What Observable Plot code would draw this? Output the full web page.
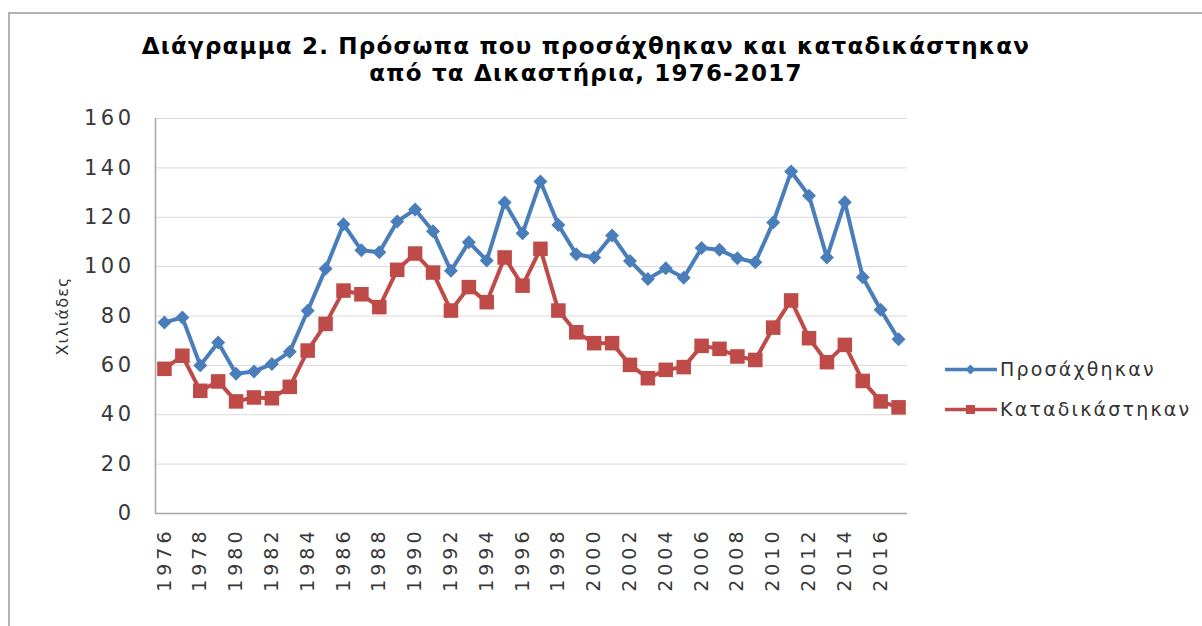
<!DOCTYPE html>
<html><head><meta charset="utf-8">
<script src="https://cdn.jsdelivr.net/npm/d3@7"></script>
<script src="https://cdn.jsdelivr.net/npm/@observablehq/plot@0.6"></script>
<style>
body{margin:0;background:#fff;}
#wrap{position:relative;width:1202px;height:626px;overflow:hidden;font-family:"DejaVu Sans",Verdana,sans-serif;background:#fff;}
#border{position:absolute;left:8px;top:12px;width:1400px;height:800px;border-left:2px solid #b3b3b3;border-top:2px solid #b3b3b3;}
#title{position:absolute;left:0;width:1172px;top:33px;text-align:center;font-weight:bold;font-size:23px;letter-spacing:1.2px;line-height:27px;color:#000;}
#chart{position:absolute;left:0;top:0;}
#legend{position:absolute;left:945px;top:349px;font-size:19px;letter-spacing:2.2px;color:#333;}
.row{display:flex;align-items:center;height:40px;}
.row svg{margin-right:3px;}
</style></head>
<body><div id="wrap">
<div id="border"></div>
<div id="chart"></div>
<div id="title">Διάγραμμα 2. Πρόσωπα που προσάχθηκαν και καταδικάστηκαν<br>από τα Δικαστήρια, 1976-2017</div>
<div id="legend"></div>
</div>
<script>
const years = d3.range(1976, 2018);
const prosaxthikan = [77.4, 79.4, 60, 69.3, 56.6, 57.5, 60.6, 65.5, 82.1, 99.1, 117.2, 106.6, 105.8, 118.3, 123.1,
  114.3, 98.3, 109.9, 102.5, 126, 113.5, 134.5, 116.9, 105, 103.7, 112.6, 102.3, 95, 99.3, 95.5,
  107.5, 106.8, 103.4, 101.8, 117.9, 138.5, 128.7, 103.7, 126.1, 95.7, 82.5, 70.6];
const katadikastikan = [58.6, 63.9, 49.7, 53.5, 45.4, 47, 46.7, 51.3, 66, 76.8, 90.3, 88.8, 83.6, 98.7, 105.3,
  97.6, 82.2, 91.7, 85.6, 103.7, 92.3, 107.2, 82.2, 73.4, 69, 69, 60.2, 54.8, 58.2, 59.3,
  67.9, 66.7, 63.6, 62.2, 75.3, 86.3, 71, 61.3, 68.3, 53.7, 45.4, 43];
const seriesNames = ["Προσάχθηκαν", "Καταδικάστηκαν"];
const colors = ["#4a7ebb", "#be4b48"];
const yTicks = [0, 20, 40, 60, 80, 100, 120, 140, 160];
const xTicks = d3.range(1976, 2017, 2);
const yLabel = "Χιλιάδες";

const chart = Plot.plot({
  width: 1202, height: 626,
  marginLeft: 155, marginRight: 295, marginTop: 118, marginBottom: 113,
  style: {fontFamily: "'DejaVu Sans', Verdana, sans-serif", fontSize: "19px", color: "#333", background: "transparent"},
  x: {type: "linear", domain: [1975.5, 2017.5]},
  y: {domain: [0, 160]},
  marks: [
    Plot.gridY(yTicks.slice(1), {stroke: "#d9d9d9", strokeOpacity: 1}),
    Plot.ruleY([0], {stroke: "#a6a6a6", strokeWidth: 1.5}),
    Plot.ruleX([1975.5], {stroke: "#a6a6a6", strokeWidth: 1.5}),
    Plot.axisY(yTicks, {tickSize: 0, tickPadding: 21, label: null, fill: "#383838"}),
    Plot.axisX(xTicks, {tickSize: 0, tickRotate: -90, tickPadding: 14, tickFormat: d => String(d), label: null, fill: "#383838"}),
    Plot.text([yLabel], {text: d => d, frameAnchor: "left", textAnchor: "middle", dx: -93, rotate: -90, fontSize: 16, fill: "#333"}),
    Plot.line(prosaxthikan, {x: (d, i) => years[i], y: d => d, stroke: colors[0], strokeWidth: 4}),
    Plot.line(katadikastikan, {x: (d, i) => years[i], y: d => d, stroke: colors[1], strokeWidth: 4}),
    Plot.dot(prosaxthikan, {x: (d, i) => years[i], y: d => d, symbol: "diamond2", r: 6.3, fill: colors[0], stroke: "none"}),
    Plot.dot(katadikastikan, {x: (d, i) => years[i], y: d => d, symbol: "square", r: 8.2, fill: colors[1], stroke: "none"})
  ]
});
// widen the tick-label and axis-title lettering like the reference
const svg = d3.select(chart);
svg.selectAll("g[aria-label='y-axis tick label'] text").attr("letter-spacing", 3.5).attr("font-size", 21);
svg.selectAll("g[aria-label='x-axis tick label'] text").attr("letter-spacing", 4);
svg.selectAll("g[aria-label='text'] text").attr("letter-spacing", 1.2);
document.getElementById("chart").appendChild(chart);

const legend = document.getElementById("legend");
seriesNames.forEach((name, i) => {
  const row = document.createElement("div");
  row.className = "row";
  const marker = i === 0
    ? `<rect x="22" y="5" width="7" height="7" transform="rotate(45 25.5 8.5)" fill="${colors[i]}"/>`
    : `<rect x="21" y="4" width="9" height="9" fill="${colors[i]}"/>`;
  row.innerHTML = `<svg width="52" height="17"><line x1="0" x2="52" y1="8.5" y2="8.5" stroke="${colors[i]}" stroke-width="3.5"/>${marker}</svg><span>${name}</span>`;
  legend.appendChild(row);
});
</script>
</body></html>
